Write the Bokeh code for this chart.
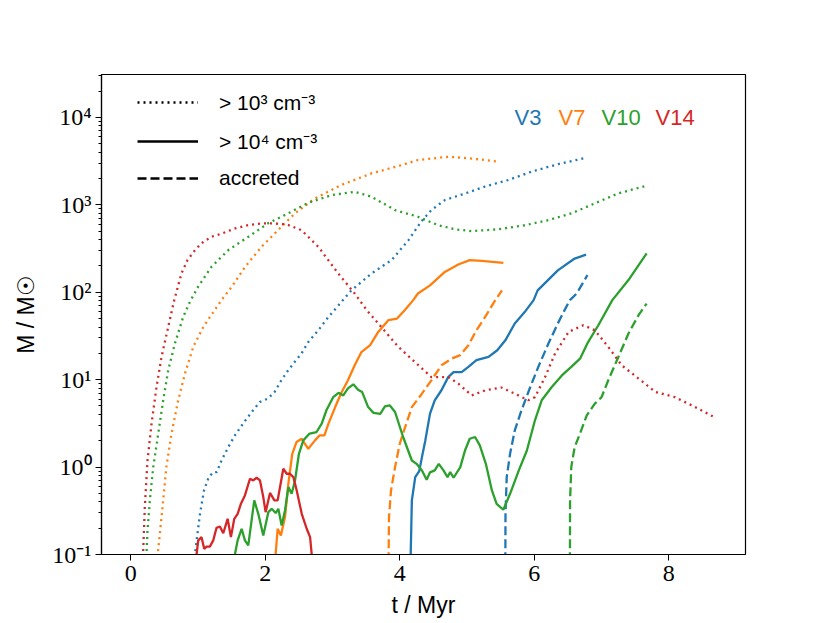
from bokeh.plotting import figure
from bokeh.models import FixedTicker, Legend, LegendItem, Label, Range1d
from bokeh.embed import file_html
from bokeh.resources import INLINE

# ---------------- data (t in Myr, M in solar masses) ----------------
BLUE, ORANGE, GREEN, RED = "#1f77b4", "#ff7f0e", "#2ca02c", "#d62728"

# V3
v3_dense3_t = [0.94, 0.98, 1.03, 1.09, 1.16, 1.23, 1.28, 1.35, 1.45, 1.55, 1.67, 1.80, 1.92, 2.04, 2.14,
               2.24, 2.34, 2.44, 2.54, 2.64, 2.79, 2.94, 3.09, 3.28, 3.58, 3.88, 4.13, 4.32, 4.47, 4.67,
               4.97, 5.27, 5.61, 5.96, 6.36, 6.78]
v3_dense3_m = [0.08, 0.145, 0.292, 0.541, 0.767, 0.877, 0.877, 1.19, 1.69, 2.31, 3.14, 4.27, 5.56, 6.07, 7.24,
               9.84, 12.8, 16.0, 20.0, 26.9, 36.8, 52.2, 71.1, 105, 164, 234, 395, 646, 871, 1135,
               1349, 1622, 1923, 2399, 2931, 3467]
v3_dense4_t = [4.148, 4.18, 4.23, 4.29, 4.33, 4.38, 4.45, 4.52, 4.62, 4.72, 4.80, 4.92, 5.02, 5.14, 5.32,
               5.45, 5.57, 5.71, 5.86, 5.99, 6.05, 6.35, 6.60, 6.77]
v3_dense4_m = [0.03, 0.417, 0.767, 0.90, 1.30, 2.02, 4.09, 5.81, 7.57, 10.7, 12.2, 12.2, 14.0, 16.7, 18.2,
               21.7, 28.2, 44.0, 59.7, 81.3, 105, 178, 243, 269]
v3_acc_t = [5.568, 5.572, 5.59, 5.64, 5.71, 5.81, 5.94, 6.06, 6.21, 6.35, 6.46, 6.53, 6.63, 6.79]
v3_acc_m = [0.03, 0.292, 0.767, 1.42, 2.63, 4.47, 8.24, 14.0, 25.9, 44.0, 64.6, 81.3, 96.8, 157]

# V7
v7_dense3_t = [0.39, 0.40, 0.434, 0.483, 0.53, 0.607, 0.706, 0.806, 0.93, 1.08, 1.23, 1.35, 1.50, 1.70,
               1.945, 2.19, 2.44, 2.74, 3.13, 3.58, 3.98, 4.27, 4.72, 5.07, 5.48]
v7_dense3_m = [0.08, 0.1, 0.173, 0.417, 1.0, 2.42, 5.81, 11.7, 23.7, 40.2, 59.7, 81.3, 115, 195,
               331, 513, 798, 1186, 1687, 2291, 2780, 3258, 3548, 3388, 3119]
v7_dense4_t = [2.145, 2.154, 2.185, 2.233, 2.294, 2.344, 2.402, 2.466, 2.54, 2.64, 2.74, 2.81, 2.88, 2.94,
               3.04, 3.13, 3.23, 3.33, 3.43, 3.56, 3.68, 3.83, 3.96, 4.08, 4.20, 4.27, 4.45, 4.67, 4.87,
               5.04, 5.22, 5.54]
v7_dense4_m = [0.07, 0.1, 0.197, 0.165, 0.268, 0.646, 1.42, 1.94, 2.11, 1.62, 2.02, 2.31, 2.31, 3.14,
               4.86, 7.05, 9.84, 14.6, 20.7, 24.8, 35.2, 47.9, 50.1, 63.1, 81.3, 96.8, 120, 171, 208,
               233, 229, 217]
v7_acc_t = [3.828, 3.84, 3.87, 3.93, 4.00, 4.08, 4.18, 4.33, 4.47, 4.62, 4.77, 4.90, 5.02, 5.14, 5.27, 5.42, 5.52]
v7_acc_m = [0.03, 0.267, 0.541, 1.0, 1.85, 2.87, 4.86, 6.92, 9.84, 14.6, 17.4, 19.1, 24.8, 36.8, 52.2, 81.3, 105]

# V10
v10_dense3_t = [0.225, 0.235, 0.25, 0.285, 0.335, 0.41, 0.483, 0.558, 0.657, 0.78, 0.88, 1.0, 1.20, 1.45,
                1.75, 2.04, 2.34, 2.64, 2.99, 3.33, 3.58, 3.93, 4.27, 4.57, 4.82, 5.07, 5.46, 5.87, 6.21,
                6.55, 6.90, 7.25, 7.65]
v10_dense3_m = [0.08, 0.1, 0.188, 0.417, 1.0, 2.42, 5.81, 12.8, 25.9, 52.2, 77.6, 115, 195, 303,
                432, 614, 798, 1057, 1294, 1413, 1239, 871, 731, 586, 525, 501, 525, 586, 670,
                798, 1040, 1355, 1641]
v10_dense4_t = [1.52, 1.549, 1.590, 1.649, 1.698, 1.748, 1.837, 1.897, 1.971, 2.046, 2.096, 2.155, 2.195,
                2.244, 2.294, 2.344, 2.393, 2.443, 2.501, 2.566, 2.66, 2.763, 2.84, 2.91, 3.01, 3.09,
                3.16, 3.23, 3.31, 3.38, 3.44, 3.53, 3.61, 3.71, 3.78, 3.85, 3.93, 4.05, 4.18, 4.25,
                4.33, 4.40, 4.45, 4.52, 4.58, 4.65, 4.71, 4.75, 4.80, 4.90, 4.97, 5.04, 5.12, 5.19,
                5.28, 5.37, 5.44, 5.54, 5.64, 5.77, 5.89, 6.01, 6.11, 6.26, 6.41, 6.55, 6.68, 6.80,
                6.95, 7.16, 7.40, 7.67]
v10_dense4_m = [0.07, 0.1, 0.145, 0.197, 0.145, 0.127, 0.417, 0.292, 0.165, 0.305, 0.333, 0.298, 0.333,
                0.215, 0.319, 0.590, 0.495, 0.703, 1.42, 2.02, 2.42, 2.52, 3.14, 4.47, 6.31, 7.08,
                6.61, 7.94, 8.85, 7.69, 7.24, 4.86, 4.17, 4.07, 4.95, 5.09, 4.27, 2.21, 1.19, 1.09,
                0.916, 0.718, 0.871, 0.916, 1.09, 0.916, 0.767, 0.877, 0.755, 1.0, 1.55, 2.11, 2.21, 1.77,
                1.09, 0.541, 0.380, 0.325, 0.495, 0.916, 1.55, 3.43, 5.81, 8.24, 11.2, 14.0, 17.4, 26.9,
                41.7, 81.3, 138, 278]
v10_acc_t = [6.528, 6.532, 6.55, 6.60, 6.68, 6.78, 6.90, 7.00, 7.10, 7.25, 7.40, 7.55, 7.67]
v10_acc_m = [0.03, 0.417, 1.0, 1.69, 2.42, 3.91, 5.32, 6.31, 9.84, 18.2, 33.7, 54.7, 74.1]

# V14
v14_dense3_t = [0.17, 0.186, 0.21, 0.25, 0.31, 0.384, 0.458, 0.558, 0.647, 0.755, 0.845, 0.955, 1.05, 1.20,
                1.35, 1.55, 1.75, 1.95, 2.14, 2.34, 2.54, 2.79, 3.085, 3.33, 3.51, 3.68, 3.98, 4.23,
                4.47, 4.72, 4.87, 5.07, 5.27, 5.51, 5.71, 5.91, 6.01, 6.16, 6.31, 6.51, 6.73, 6.90,
                7.10, 7.30, 7.55, 7.80, 8.09, 8.34, 8.69]
v14_dense3_m = [0.08, 0.111, 0.348, 1.19, 3.14, 8.24, 18.2, 40.2, 81.3, 164, 234, 302, 363, 432,
                468, 537, 589, 614, 614, 589, 513, 331, 164, 96.8, 62.4, 44.0, 23.7, 15.8,
                10.7, 10.7, 9.02, 6.61, 7.55, 8.13, 6.92, 5.81, 6.31, 10.7, 20.0, 35.2, 42.0, 36.8,
                23.7, 14.6, 10.3, 7.24, 6.31, 5.09, 3.68]
v14_dense4_t = [0.97, 0.979, 1.004, 1.053, 1.093, 1.128, 1.177, 1.227, 1.276, 1.326, 1.376, 1.441, 1.490,
                1.540, 1.590, 1.639, 1.698, 1.773, 1.822, 1.872, 1.922, 1.971, 2.006, 2.071, 2.136,
                2.185, 2.269, 2.319, 2.368, 2.418, 2.468, 2.543, 2.617, 2.667, 2.691, 2.70]
v14_dense4_m = [0.07, 0.1, 0.145, 0.158, 0.116, 0.123, 0.123, 0.145, 0.202, 0.209, 0.175, 0.256, 0.158,
                0.256, 0.292, 0.381, 0.474, 0.736, 0.703, 0.755, 0.703, 0.454, 0.305, 0.506, 0.417,
                0.417, 0.959, 0.839, 0.839, 0.769, 0.541, 0.292, 0.197, 0.158, 0.1, 0.07]

run_names = ["V3", "V7", "V10", "V14"]
run_colors = [BLUE, ORANGE, GREEN, RED]
legend_labels = ["> 10³ cm⁻³", "> 10⁴ cm⁻³", "accreted"]

x_ticks = [0, 2, 4, 6, 8]
y_ticks = [0.1, 1, 10, 100, 1000, 10000]
y_tick_labels = ["10⁻¹", "10⁰", "10¹", "10²", "10³", "10⁴"]

# ---------------- figure ----------------
SERIF = "Liberation Serif"
SANS = "Liberation Sans"

p = figure(frame_width=644, frame_height=480, y_axis_type="log",
           x_range=Range1d(-0.434, 9.14), y_range=Range1d(0.1, 3.1e4),
           output_backend="svg", toolbar_location=None,
           min_border_left=101, min_border_right=77, min_border_top=74, min_border_bottom=61)
p.grid.visible = False
p.outline_line_color = "black"
p.outline_line_width = 1.2
p.background_fill_color = "white"
p.border_fill_color = "white"

minor = [m * 10.0 ** e for e in range(-1, 5) for m in range(2, 10)]
p.yaxis.ticker = FixedTicker(ticks=y_ticks, minor_ticks=minor)
p.yaxis.major_label_overrides = {v: s for v, s in zip(y_ticks, y_tick_labels)}
p.xaxis.ticker = FixedTicker(ticks=x_ticks, minor_ticks=[])

for ax in (p.xaxis[0], p.yaxis[0]):
    ax.axis_line_color = "black"
    ax.axis_line_width = 1.2
    ax.major_tick_line_color = "black"
    ax.minor_tick_line_color = "black"
    ax.major_tick_in = 0
    ax.major_tick_out = 6
    ax.minor_tick_in = 0
    ax.minor_tick_out = 3
    ax.major_label_text_font = SERIF
    ax.major_label_text_font_size = "24px"
    ax.major_label_text_color = "black"
    ax.axis_label_text_font = SANS
    ax.axis_label_text_font_style = "normal"
    ax.axis_label_text_font_size = "23px"
    ax.axis_label_text_color = "black"

p.xaxis.axis_label = "t / Myr"
p.yaxis.axis_label = "M / M☉"
p.xaxis.major_label_standoff = 5
p.xaxis.axis_label_standoff = 8
p.yaxis.major_label_standoff = 4
p.yaxis.axis_label_standoff = 10

LW = 2.3
DOT = "2 4"
DASH = "9 4"

series = [
    (v3_dense3_t, v3_dense3_m, v3_dense4_t, v3_dense4_m, v3_acc_t, v3_acc_m),
    (v7_dense3_t, v7_dense3_m, v7_dense4_t, v7_dense4_m, v7_acc_t, v7_acc_m),
    (v10_dense3_t, v10_dense3_m, v10_dense4_t, v10_dense4_m, v10_acc_t, v10_acc_m),
    (v14_dense3_t, v14_dense3_m, v14_dense4_t, v14_dense4_m, None, None),
]
for (t3, m3, t4, m4, ta, ma), col in zip(series, run_colors):
    p.line(t3, m3, line_color=col, line_width=LW, line_dash=DOT)
    p.line(t4, m4, line_color=col, line_width=LW)
    if ta is not None:
        p.line(ta, ma, line_color=col, line_width=LW, line_dash=DASH)

# legend for line styles (black samples; renderers hold no visible data)
nan = float("nan")
r_dot = p.line([nan], [nan], line_color="black", line_width=LW, line_dash=DOT)
r_sol = p.line([nan], [nan], line_color="black", line_width=LW)
r_das = p.line([nan], [nan], line_color="black", line_width=LW, line_dash=DASH)
legend = Legend(items=[LegendItem(label=legend_labels[0], renderers=[r_dot]),
                       LegendItem(label=legend_labels[1], renderers=[r_sol]),
                       LegendItem(label=legend_labels[2], renderers=[r_das])],
                location=(36, 364), glyph_width=61, glyph_height=24, label_height=24,
                spacing=11, label_standoff=21, padding=0, margin=0,
                border_line_color=None, background_fill_alpha=0,
                label_text_font=SANS, label_text_font_size="21px", label_text_color="black")
p.add_layout(legend, "center")

# run names in their colours
name_x = [413, 457, 500, 554]
for name, col, nx in zip(run_names, run_colors, name_x):
    p.add_layout(Label(x=nx, y=437, x_units="screen", y_units="screen", text=name,
                       text_color=col, text_font=SANS, text_font_size="22px",
                       text_baseline="alphabetic", text_align="left"))

open("out.html", "w").write(file_html(p, INLINE))
